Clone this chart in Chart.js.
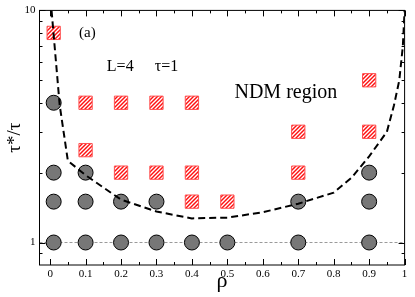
<!DOCTYPE html>
<html>
<head>
<meta charset="utf-8">
<script src="https://cdn.jsdelivr.net/npm/chart.js@4.4.1/dist/chart.umd.min.js"></script>
<style>
  html, body { margin: 0; padding: 0; background: #fff; }
  #wrap { width: 415px; height: 297px; }
</style>
</head>
<body>
<div id="wrap"><canvas id="chart" width="415" height="297"></canvas></div>
<script>
// ---------------------------------------------------------------------------
// Data
// ---------------------------------------------------------------------------

// grey circles (DM points)
const circleRho = [0.01, 0.01, 0.01, 0.01, 0.1, 0.1, 0.1, 0.2, 0.2, 0.3, 0.3, 0.4, 0.5, 0.7, 0.7, 0.9, 0.9, 0.9];
const circleTau = [1, 1.5, 2, 4, 1, 1.5, 2, 1, 1.5, 1, 1.5, 1, 1, 1, 1.5, 1, 1.5, 2];

// red hatched squares (NDM points)
const squareRho = [0.01, 0.1, 0.1, 0.2, 0.2, 0.3, 0.3, 0.4, 0.4, 0.4, 0.5, 0.7, 0.7, 0.9, 0.9];
const squareTau = [8, 2.5, 4, 2, 4, 2, 4, 1.5, 2, 4, 1.5, 2, 3, 3, 5];

// dashed boundary of the NDM region
const boundaryRho = [0.004, 0.027, 0.05, 0.1, 0.2, 0.3, 0.4, 0.5, 0.6, 0.7, 0.8, 0.85, 0.9, 0.95, 0.97, 0.985, 0.995, 1.0];
const boundaryTau = [10, 3.9, 2.25, 1.95, 1.53, 1.36, 1.27, 1.28, 1.35, 1.47, 1.64, 1.9, 2.35, 3.0, 3.9, 5.0, 7.0, 10];

// thin reference line at tau*/tau = 1
const refRho = [-0.03, 1.0];
const refTau = [1, 1];

// axes
const xTicks = [0, 0.1, 0.2, 0.3, 0.4, 0.5, 0.6, 0.7, 0.8, 0.9, 1];
const xTickLabels = ['0', '0.1', '0.2', '0.3', '0.4', '0.5', '0.6', '0.7', '0.8', '0.9', '1'];
const xMinorTicks = [0.05, 0.15, 0.25, 0.35, 0.45, 0.55, 0.65, 0.75, 0.85, 0.95];
const yTicks = [1, 10];
const yTickLabels = ['1', '10'];
const yMinorTicks = [0.9, 2, 3, 4, 5, 6, 7, 8, 9];

// ---------------------------------------------------------------------------
// Helpers
// ---------------------------------------------------------------------------

const SERIF = '"Liberation Serif", "DejaVu Serif", serif';

function toPoints(xs, ys) {
  return xs.map((x, i) => ({ x, y: ys[i] }));
}

// red fill with white "///" hatching
function stripePattern() {
  const c = document.createElement('canvas');
  c.width = 4;
  c.height = 4;
  const g = c.getContext('2d');
  g.fillStyle = '#ff1010';
  g.fillRect(0, 0, 4, 4);
  g.strokeStyle = '#ffffff';
  g.lineWidth = 1.4;
  g.beginPath();
  g.moveTo(-1, 5); g.lineTo(5, -1);
  g.moveTo(-1, 1); g.lineTo(1, -1);
  g.moveTo(3, 5); g.lineTo(5, 3);
  g.stroke();
  return g.createPattern(c, 'repeat');
}

// box frame with inward ticks on all four sides
const frameTicks = {
  id: 'frameTicks',
  afterDatasetsDraw(chart) {
    const { ctx, chartArea: a, scales: { x, y } } = chart;
    const px = v => Math.round(v) + 0.5;
    ctx.save();
    ctx.strokeStyle = '#000';
    ctx.lineWidth = 1;
    ctx.strokeRect(a.left, a.top, a.right - a.left, a.bottom - a.top);
    ctx.beginPath();
    const xTick = (v, len) => {
      const p = px(x.getPixelForValue(v));
      ctx.moveTo(p, a.bottom); ctx.lineTo(p, a.bottom - len);
      ctx.moveTo(p, a.top); ctx.lineTo(p, a.top + len);
    };
    const yTick = (v, len) => {
      const p = px(y.getPixelForValue(v));
      ctx.moveTo(a.left, p); ctx.lineTo(a.left + len, p);
      ctx.moveTo(a.right, p); ctx.lineTo(a.right - len, p);
    };
    xTicks.forEach(v => xTick(v, 6));
    xMinorTicks.forEach(v => xTick(v, 3));
    yTicks.forEach(v => yTick(v, 6));
    yMinorTicks.forEach(v => yTick(v, 3));
    ctx.stroke();
    ctx.restore();
  }
};

// in-plot labels, placed in data coordinates
const notes = {
  id: 'notes',
  afterDraw(chart) {
    const { ctx, scales: { x, y } } = chart;
    const put = (text, rx, ty, size, align) => {
      ctx.font = size + 'px ' + SERIF;
      ctx.textAlign = align;
      ctx.textBaseline = 'middle';
      ctx.fillText(text, x.getPixelForValue(rx), y.getPixelForValue(ty));
    };
    ctx.save();
    ctx.fillStyle = '#000';
    put('(a)', 0.105, 8, 15, 'center');
    put('L=4', 0.16, 5.7, 16, 'left');
    put('\u03c4=1', 0.295, 5.7, 16, 'left');
    put('NDM region', 0.52, 4.4, 20, 'left');
    ctx.restore();
  }
};

// ---------------------------------------------------------------------------
// Chart
// ---------------------------------------------------------------------------

const ctx = document.getElementById('chart').getContext('2d');

new Chart(ctx, {
  type: 'scatter',
  data: {
    datasets: [
      {
        label: 'boundary',
        data: toPoints(boundaryRho, boundaryTau),
        showLine: true,
        borderColor: '#000',
        borderWidth: 2,
        borderDash: [7, 4],
        pointRadius: 0,
        tension: 0,
        fill: false
      },
      {
        label: 'NDM',
        data: toPoints(squareRho, squareTau),
        pointStyle: 'rect',
        pointRadius: 9.4,
        backgroundColor: stripePattern(),
        borderColor: '#ff5050',
        borderWidth: 1
      },
      {
        label: 'DM',
        data: toPoints(circleRho, circleTau),
        pointStyle: 'circle',
        pointRadius: 7.5,
        backgroundColor: '#777777',
        borderColor: '#000',
        borderWidth: 1
      },
      {
        label: 'ref',
        data: toPoints(refRho, refTau),
        showLine: true,
        borderColor: '#9a9a9a',
        borderWidth: 1,
        borderDash: [3, 2],
        pointRadius: 0,
        fill: false
      }
    ]
  },
  options: {
    responsive: false,
    animation: false,
    devicePixelRatio: 1,
    layout: { padding: { left: 0, right: 4.5, top: 5, bottom: 0 } },
    plugins: {
      legend: { display: false },
      tooltip: { enabled: false }
    },
    scales: {
      x: {
        type: 'linear',
        min: -0.03,
        max: 1,
        grid: { display: false, drawTicks: false },
        border: { display: false },
        afterBuildTicks: s => { s.ticks = xTicks.map(v => ({ value: v })); },
        afterFit: s => { s.height = 32; s.paddingLeft = 0; s.paddingRight = 0; },
        ticks: {
          padding: 3,
          maxRotation: 0,
          autoSkip: false,
          color: '#000',
          font: { family: SERIF, size: 11 },
          callback: (v, i) => xTickLabels[i]
        },
        title: {
          display: true,
          text: '\u03c1',
          color: '#000',
          font: { family: SERIF, size: 22 },
          padding: { top: 0, bottom: 3 }
        }
      },
      y: {
        type: 'logarithmic',
        min: 0.8,
        max: 10,
        grid: { display: false, drawTicks: false },
        border: { display: false },
        afterBuildTicks: s => { s.ticks = yTicks.map(v => ({ value: v })); },
        afterFit: s => { s.width = 39.5; s.paddingTop = 0; s.paddingBottom = 0; },
        ticks: {
          padding: 4,
          autoSkip: false,
          color: '#000',
          font: { family: SERIF, size: 11 },
          callback: (v, i) => yTickLabels[i]
        },
        title: {
          display: true,
          text: '\u03c4*/\u03c4',
          color: '#000',
          font: { family: SERIF, size: 19 },
          padding: { top: 4, bottom: 0 }
        }
      }
    }
  },
  plugins: [frameTicks, notes]
});
</script>
</body>
</html>
